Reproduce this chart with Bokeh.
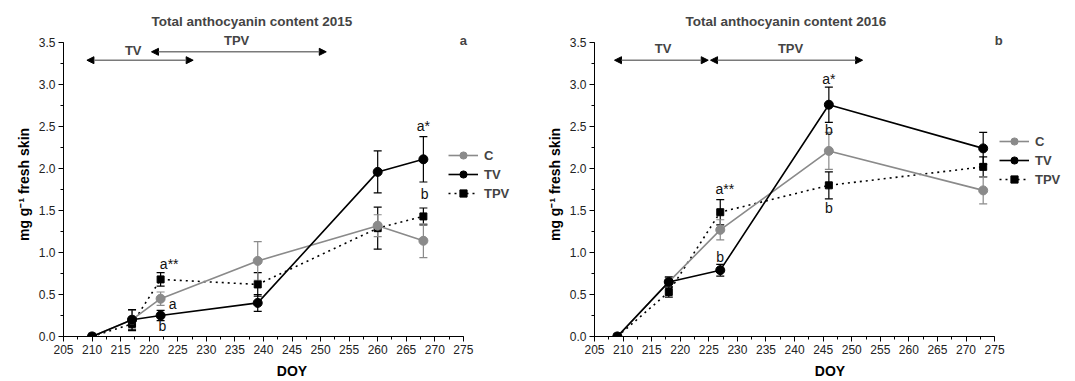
from bokeh.plotting import figure
from bokeh.layouts import row
from bokeh.models import (ColumnDataSource, Whisker, TeeHead, Arrow, NormalHead, Label,
                          Legend, LegendItem, Range1d, SingleIntervalTicker, NumeralTickFormatter)
from bokeh.core.properties import value
from bokeh.embed import file_html
from bokeh.resources import INLINE

FONT = "Liberation Sans"

# ---------------- data 2015 ----------------
doy_2015 = [210, 217, 222, 239, 260, 268]
c_2015 = [0.0, 0.20, 0.45, 0.90, 1.32, 1.14]
c_err_2015 = [0.0, 0.11, 0.08, 0.23, 0.13, 0.20]
tv_2015 = [0.0, 0.20, 0.25, 0.40, 1.96, 2.11]
tv_err_2015 = [0.0, 0.12, 0.06, 0.10, 0.25, 0.27]
tpv_2015 = [0.0, 0.15, 0.68, 0.62, 1.29, 1.43]
tpv_err_2015 = [0.0, 0.08, 0.08, 0.14, 0.25, 0.10]
ann_text_2015 = ["a**", "a", "b", "a*", "b"]
ann_x_2015 = [223.5, 224.1, 222.3, 268.0, 268.2]
ann_y_2015 = [0.86, 0.39, 0.12, 2.51, 1.70]
tv_period_2015 = [209.1, 227.7]
tpv_period_2015 = [220.4, 251.0]

# ---------------- data 2016 ----------------
doy_2016 = [209, 218, 227, 246, 273]
c_2016 = [0.0, 0.65, 1.27, 2.21, 1.74]
c_err_2016 = [0.0, 0.05, 0.12, 0.22, 0.16]
tv_2016 = [0.0, 0.65, 0.79, 2.76, 2.24]
tv_err_2016 = [0.0, 0.06, 0.07, 0.21, 0.19]
tpv_2016 = [0.0, 0.53, 1.48, 1.80, 2.02]
tpv_err_2016 = [0.0, 0.06, 0.15, 0.16, 0.12]
ann_text_2016 = ["a**", "b", "a*", "b", "b"]
ann_x_2016 = [227.8, 227.0, 246.0, 246.0, 246.0]
ann_y_2016 = [1.76, 0.95, 3.07, 2.46, 1.53]
tv_period_2016 = [208.5, 224.9]
tpv_period_2016 = [225.3, 251.9]

series_names = ["C", "TV", "TPV"]
x_ticks_start, x_ticks_end = 205, 275

PX_X = 400 / 70.0   # pixels per DOY
PX_Y = 84.0         # pixels per unit
Y_END = 3.62


def build(title, title_offset, doy, c, c_err, tv, tv_err, tpv, tpv_err,
          ann_text, ann_x, ann_y, tv_period, tpv_period, tv_y, tpv_y,
          tv_lab, tpv_lab, panel, x_end, border_left, legend_loc):
    fw = int(round((x_end - 205) * PX_X))
    fh = int(round(Y_END * PX_Y))
    p = figure(frame_width=fw, frame_height=fh, output_backend="svg",
               toolbar_location=None, x_range=Range1d(205, x_end),
               y_range=Range1d(0, Y_END), min_border_left=border_left,
               min_border_right=0, min_border_top=32, min_border_bottom=0)
    p.grid.visible = False
    p.outline_line_color = None
    p.background_fill_color = "white"
    p.border_fill_color = "white"

    p.title.text = title
    p.title.align = "left"
    p.title.offset = title_offset
    p.title.text_font = FONT
    p.title.text_font_size = "13.5px"
    p.title.text_font_style = "bold"
    p.title.standoff = 7

    p.xaxis.ticker = SingleIntervalTicker(interval=5, num_minor_ticks=2)
    p.yaxis.ticker = SingleIntervalTicker(interval=0.5, num_minor_ticks=2)
    p.yaxis.formatter = NumeralTickFormatter(format="0.0")
    p.xaxis.bounds = (x_ticks_start, x_ticks_end)
    p.yaxis.bounds = (0, 3.5)
    for ax in (p.xaxis[0], p.yaxis[0]):
        ax.major_label_text_font = FONT
        ax.major_label_text_font_size = "12px"
        ax.major_label_text_color = "#222222"
        ax.axis_label_text_font = FONT
        ax.axis_label_text_font_size = "14px"
        ax.axis_label_text_font_style = "bold"
        ax.axis_label_text_color = "black"
        ax.axis_line_color = "black"
        ax.major_tick_line_color = "black"
        ax.minor_tick_line_color = "black"
        ax.major_tick_out = 5
        ax.major_tick_in = 0
        ax.minor_tick_out = 3
        ax.minor_tick_in = 0
        ax.major_label_standoff = 3
        ax.axis_label_standoff = 4
    p.xaxis.axis_label_standoff = 6
    p.xaxis.axis_label = "DOY"
    p.yaxis.axis_label = "mg g\u207b\u00b9 fresh skin"

    styles = {
        "C": dict(color="#8a8a8a", dash="solid", marker="circle", size=9),
        "TV": dict(color="black", dash="solid", marker="circle", size=9),
        "TPV": dict(color="black", dash="2 4", marker="square", size=7),
    }
    vals = {"C": (c, c_err), "TV": (tv, tv_err), "TPV": (tpv, tpv_err)}
    items = []
    for name in ["TPV", "C", "TV"]:
        st = styles[name]
        y, e = vals[name]
        ex = [d for d, er in zip(doy, e) if er > 0]
        up = [v + er for v, er in zip(y, e) if er > 0]
        lo = [v - er for v, er in zip(y, e) if er > 0]
        wsrc = ColumnDataSource(dict(x=ex, upper=up, lower=lo))
        w = Whisker(source=wsrc, base="x", upper="upper", lower="lower",
                    dimension="height", line_color=st["color"], line_width=1.2,
                    upper_head=TeeHead(size=8, line_color=st["color"], line_width=1.2),
                    lower_head=TeeHead(size=8, line_color=st["color"], line_width=1.2))
        p.add_layout(w)
    rends = {}
    for name in ["TPV", "C", "TV"]:
        st = styles[name]
        y, e = vals[name]
        src = ColumnDataSource(dict(x=doy, y=y))
        lr = p.line("x", "y", source=src, line_color=st["color"], line_width=1.6,
                    line_dash=st["dash"])
        sr = p.scatter("x", "y", source=src, marker=st["marker"], size=st["size"],
                       fill_color=st["color"], line_color=st["color"])
        rends[name] = [lr, sr]
    for name in series_names:
        items.append(LegendItem(label=name, renderers=rends[name]))
    leg = Legend(items=items, location=legend_loc, padding=0, margin=0,
                 spacing=1, glyph_width=30, glyph_height=18, label_height=18,
                 label_standoff=6, border_line_alpha=0, background_fill_alpha=0,
                 label_text_font=FONT, label_text_font_size="13px",
                 label_text_font_style="bold")
    p.add_layout(leg)

    asrc = ColumnDataSource(dict(x=ann_x, y=ann_y, t=ann_text))
    p.text("x", "y", text="t", source=asrc, text_font=value(FONT),
           text_font_size="14px", text_align="center", text_baseline="middle",
           text_color="#111111")

    for (x0, x1), yy in ((tv_period, tv_y), (tpv_period, tpv_y)):
        p.add_layout(Arrow(x_start=x0, x_end=x1, y_start=yy, y_end=yy,
                           line_color="#7a7a7a", line_width=1.5,
                           start=NormalHead(size=7, fill_color="black", line_color="black"),
                           end=NormalHead(size=7, fill_color="black", line_color="black")))
    for txt, (lx, ly) in (("TV", tv_lab), ("TPV", tpv_lab)):
        p.add_layout(Label(x=lx, y=ly, text=txt, text_font=FONT, text_font_size="13px",
                           text_font_style="bold", text_align="center",
                           text_baseline="middle"))
    p.add_layout(Label(x=panel[1], y=panel[2], text=panel[0], text_font=FONT,
                       text_font_size="13px", text_font_style="bold",
                       text_align="center", text_baseline="middle"))
    return p


p1 = build("Total anthocyanin content 2015", 88, doy_2015, c_2015, c_err_2015,
           tv_2015, tv_err_2015, tpv_2015, tpv_err_2015,
           ann_text_2015, ann_x_2015, ann_y_2015, tv_period_2015, tpv_period_2015,
           3.29, 3.39, (217.2, 3.40), (235.3, 3.53), ("a", 275.0, 3.52),
           285.0, 63, (385, 134))
p2 = build("Total anthocyanin content 2016", 91, doy_2016, c_2016, c_err_2016,
           tv_2016, tv_err_2016, tpv_2016, tpv_err_2016,
           ann_text_2016, ann_x_2016, ann_y_2016, tv_period_2016, tpv_period_2016,
           3.29, 3.29, (217.0, 3.43), (239.3, 3.43), ("b", 275.7, 3.52),
           287.4, 74, (405, 148))

layout = row(p1, p2)
open("out.html", "w").write(file_html(layout, INLINE))
